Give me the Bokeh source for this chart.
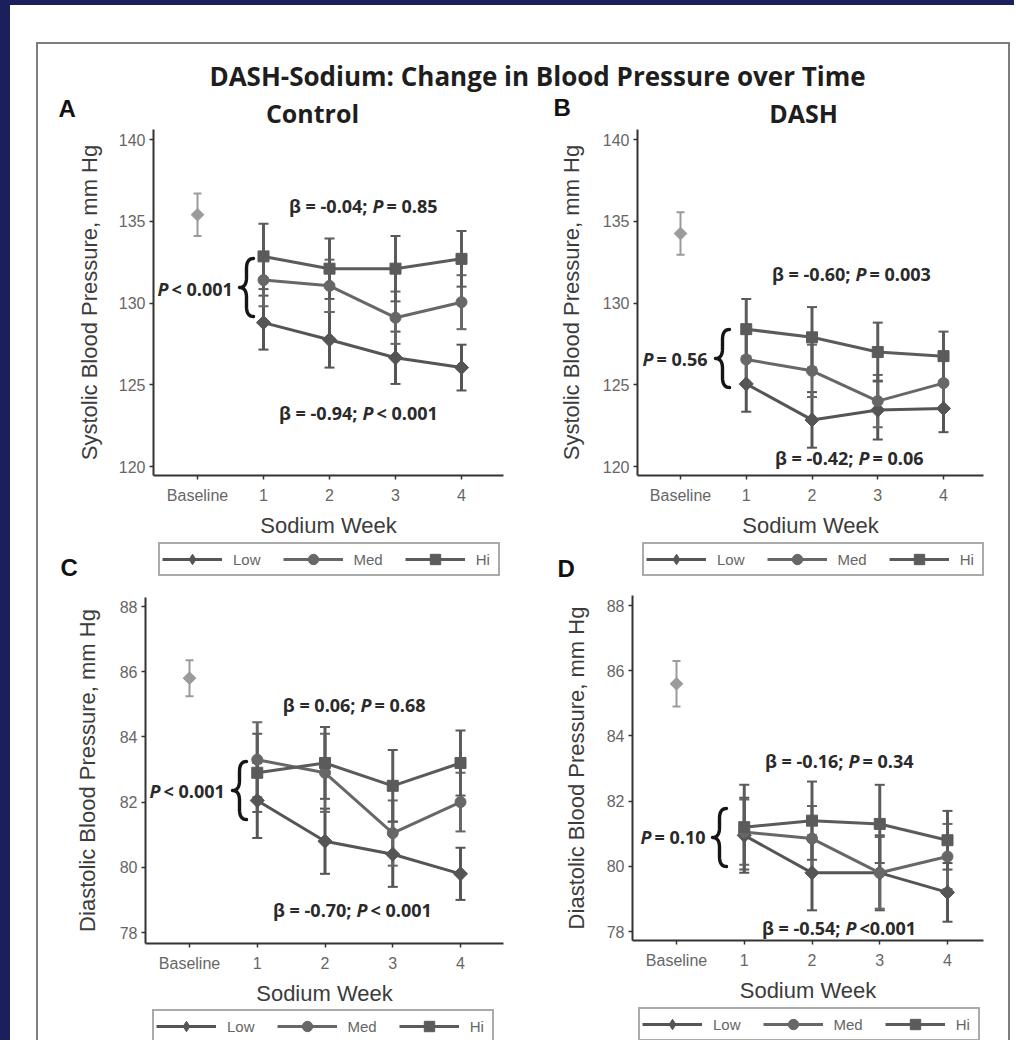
import math
from bokeh.plotting import figure
from bokeh.models import (ColumnDataSource, Whisker, TeeHead, Label, Legend, LegendItem,
                          FixedTicker, PolyAnnotation, Range1d)
from bokeh.layouts import column, row
from bokeh.embed import file_html
from bokeh.resources import INLINE

# ---------------- data ----------------
WEEKS = [1, 2, 3, 4]
X_TICKS = [0, 1, 2, 3, 4]
X_TICK_LABELS = ["Baseline", "1", "2", "3", "4"]
SERIES = ["Low", "Med", "Hi"]
SBP_TICKS = [120, 125, 130, 135, 140]
DBP_TICKS = [78, 80, 82, 84, 86, 88]

# A: systolic, control diet
A_BASE = 135.4
A_BASE_ERR = 1.3
A_LOW = [128.8, 127.75, 126.65, 126.05]
A_LOW_ERR = [1.65, 1.7, 1.6, 1.4]
A_MED = [131.4, 131.05, 129.1, 130.05]
A_MED_ERR = [1.6, 1.6, 1.6, 1.65]
A_HI = [132.85, 132.1, 132.1, 132.7]
A_HI_ERR = [2.0, 1.85, 2.0, 1.7]

# B: systolic, DASH diet
B_BASE = 134.25
B_BASE_ERR = 1.3
B_LOW = [125.05, 122.85, 123.45, 123.55]
B_LOW_ERR = [1.7, 1.7, 1.8, 1.45]
B_MED = [126.55, 125.85, 124.0, 125.1]
B_MED_ERR = [1.6, 1.6, 1.6, 1.5]
B_HI = [128.4, 127.9, 127.0, 126.75]
B_HI_ERR = [1.85, 1.85, 1.8, 1.5]

# C: diastolic, control diet
C_BASE = 85.8
C_BASE_ERR = 0.55
C_LOW = [82.05, 80.8, 80.4, 79.8]
C_LOW_ERR = [1.15, 1.0, 1.0, 0.8]
C_MED = [83.3, 82.9, 81.05, 82.0]
C_MED_ERR = [1.15, 1.2, 1.0, 0.9]
C_HI = [82.9, 83.2, 82.5, 83.2]
C_HI_ERR = [1.2, 1.1, 1.1, 1.0]

# D: diastolic, DASH diet
D_BASE = 85.6
D_BASE_ERR = 0.7
D_LOW = [80.95, 79.8, 79.8, 79.2]
D_LOW_ERR = [1.15, 1.15, 1.15, 0.9]
D_MED = [81.05, 80.85, 79.8, 80.3]
D_MED_ERR = [1.0, 1.0, 1.1, 1.0]
D_HI = [81.2, 81.4, 81.3, 80.8]
D_HI_ERR = [1.3, 1.2, 1.2, 0.9]

TITLE = "DASH-Sodium: Change in Blood Pressure over Time"
SBP_LABEL = "Systolic Blood Pressure, mm Hg"
DBP_LABEL = "Diastolic Blood Pressure, mm Hg"
X_LABEL = "Sodium Week"

A_NOTES = [("β = -0.04;", "P", "= 0.85"), ("β = -0.94;", "P", "< 0.001"), ("", "P", "< 0.001")]
B_NOTES = [("β = -0.60;", "P", "= 0.003"), ("β = -0.42;", "P", "= 0.06"), ("", "P", "= 0.56")]
C_NOTES = [("β = 0.06;", "P", "= 0.68"), ("β = -0.70;", "P", "< 0.001"), ("", "P", "< 0.001")]
D_NOTES = [("β = -0.16;", "P", "= 0.34"), ("β = -0.54;", "P", "<0.001"), ("", "P", "= 0.10")]

# ---------------- style / layout ----------------
NAVY = "#1b1f5c"
BORDER = "#7d7d7d"
BASE_COLOR = "#9b9b9b"
SER_COLORS = ["#555555", "#676767", "#5b5b5b"]
SER_MARKERS = ["diamond", "circle", "square"]
SER_SIZES = [14, 11, 11]
AXIS_COLOR = "#333333"
TICK_TEXT = "#666666"
LABEL_TEXT = "#3c3c3c"
NOTE_TEXT = "#2a2a2a"
SANS = "Liberation Sans"
BOLD = "Open Sans"
WIDE_DIAMOND = 10          # square turned 45 degrees, drawn over the diamond key glyph

# figure boxes on the page (x, y, w, h)
FIG = {
    "T": dict(x=38, y=44, w=970, h=51),
    "A": dict(x=38, y=95, w=487, h=489),
    "B": dict(x=525, y=95, w=483, h=489),
    "C": dict(x=38, y=584, w=487, h=456),
    "D": dict(x=525, y=584, w=483, h=456),
}
# axis geometry on the page: baseline / week-4 tick x, top / bottom tick y, axis box
AXPX = {
    "A": dict(x0=197, x4=461, yt=139, yb=466, L=153, R=503, T=129, B=475, ylab_sd=14),
    "B": dict(x0=680, x4=943, yt=139, yb=466, L=637, R=983, T=129, B=475, ylab_sd=16),
    "C": dict(x0=189, x4=460, yt=606, yb=932, L=145, R=503, T=597, B=943, ylab_sd=17),
    "D": dict(x0=676, x4=947, yt=605, yb=931, L=632, R=983, T=595, B=940, ylab_sd=15),
}
# text positions: (P x, centre y) page px
NOTE_POS = {
    "A": [(372, 205), (362, 412), (157, 288)],
    "B": [(855, 273), (858, 457), (642, 358)],
    "C": [(360, 704), (356, 909), (149, 790)],
    "D": [(848, 760), (845, 927), (640, 836)],
}
BRACE_POS = {"A": (246, 287), "B": (722, 358), "C": (239, 790), "D": (719, 837)}
LETTERS = {"A": [("A", 58, 108), ("C", 60, 567)], "B": [("B", 553, 107), ("D", 557, 568)],
           "C": [], "D": []}
HEADINGS = {"A": ("Control", 312, 112), "B": ("DASH", 803, 112)}
LEGEND_POS = {"A": (158, 576), "B": (642, 576), "C": (152, 1043), "D": (638, 1041)}  # left, bottom
P_GAP_BEFORE = 5
P_GAP_AFTER = 14


def add_text(p, f, px, py, text, font, size, style, color, align="left"):
    p.add_layout(Label(x=px - f["x"], y=f["y"] + f["h"] - py, x_units="screen", y_units="screen",
                       text=text, text_font=font, text_font_size=size, text_font_style=style,
                       text_color=color, text_align=align, text_baseline="middle"))


def add_brace(p, f, cx, cy, h=58, w=14, r=10):
    top, bot = cy - h / 2, cy + h / 2
    xr, xs, xt = cx + w / 2, cx, cx - w / 2

    def quad(p0, c, p1, n=10):
        return [((1 - t) ** 2 * p0[0] + 2 * (1 - t) * t * c[0] + t ** 2 * p1[0],
                 (1 - t) ** 2 * p0[1] + 2 * (1 - t) * t * c[1] + t ** 2 * p1[1])
                for t in [i / n for i in range(n + 1)]]
    pts = []
    pts += quad((xr, top), (xs, top), (xs, top + r))
    pts += quad((xs, cy - r), (xs, cy), (xt, cy))
    pts += quad((xt, cy), (xs, cy), (xs, cy + r))
    pts += quad((xs, bot - r), (xs, bot), (xr, bot))
    path = pts + pts[::-1]
    p.add_layout(PolyAnnotation(xs=[x - f["x"] for x, _ in path],
                                ys=[f["y"] + f["h"] - y for _, y in path],
                                xs_units="screen", ys_units="screen", fill_alpha=0,
                                line_color="#151515", line_alpha=1.0, line_width=3.4,
                                line_join="round"))


def make_panel(key, ylabel, yticks, base, base_err, means, errs, notes):
    f, a = FIG[key], AXPX[key]
    vt, vb = yticks[-1], yticks[0]
    ppx = (a["x4"] - a["x0"]) / 4.0
    ppy = (a["yb"] - a["yt"]) / float(vt - vb)

    def xd(px):
        return (px - a["x0"]) / ppx

    def yd(py):
        return vt - (py - a["yt"]) / ppy

    p = figure(width=f["w"], height=f["h"],
               x_range=Range1d(xd(f["x"]), xd(f["x"] + f["w"])),
               y_range=Range1d(yd(f["y"] + f["h"]), yd(f["y"])),
               min_border=0, toolbar_location=None, tools="", output_backend="svg")
    p.outline_line_color = None
    p.grid.visible = False
    p.background_fill_color = "white"
    p.border_fill_color = "white"

    xa, ya = p.xaxis[0], p.yaxis[0]
    xa.fixed_location = yd(a["B"])
    xa.bounds = (xd(a["L"]), xd(a["R"]))
    ya.fixed_location = xd(a["L"])
    ya.bounds = (yd(a["B"]), yd(a["T"]))
    xa.ticker = FixedTicker(ticks=X_TICKS)
    xa.major_label_overrides = {t: lab for t, lab in zip(X_TICKS, X_TICK_LABELS)}
    ya.ticker = FixedTicker(ticks=yticks)
    for ax in (xa, ya):
        ax.axis_line_color = AXIS_COLOR
        ax.axis_line_width = 2
        ax.major_tick_line_color = AXIS_COLOR
        ax.major_tick_line_width = 1.5
        ax.major_tick_out = 4
        ax.major_tick_in = 0
        ax.minor_tick_line_color = None
        ax.major_label_text_font = SANS
        ax.major_label_text_font_size = "16px"
        ax.major_label_text_color = TICK_TEXT
        ax.axis_label_text_font = SANS
        ax.axis_label_text_font_size = "22px"
        ax.axis_label_text_font_style = "normal"
        ax.axis_label_text_color = LABEL_TEXT
    xa.axis_label = X_LABEL
    xa.major_label_standoff = 7
    xa.axis_label_standoff = 6
    ya.axis_label = ylabel
    ya.major_label_standoff = 4
    ya.axis_label_standoff = a["ylab_sd"]

    src_b = ColumnDataSource(dict(x=[0], y=[base], upper=[base + base_err], lower=[base - base_err]))
    p.add_layout(Whisker(source=src_b, base="x", upper="upper", lower="lower",
                         line_color=BASE_COLOR, line_width=2,
                         upper_head=TeeHead(size=8, line_color=BASE_COLOR, line_width=2),
                         lower_head=TeeHead(size=8, line_color=BASE_COLOR, line_width=2)))
    p.scatter("x", "y", source=src_b, marker="square", angle=math.pi / 4, size=9, color=BASE_COLOR)

    items = []
    for name, vals, err, col, mk, sz in zip(SERIES, means, errs, SER_COLORS, SER_MARKERS, SER_SIZES):
        src = ColumnDataSource(dict(x=WEEKS, y=vals, upper=[v + e for v, e in zip(vals, err)],
                                    lower=[v - e for v, e in zip(vals, err)]))
        p.add_layout(Whisker(source=src, base="x", upper="upper", lower="lower",
                             line_color=col, line_width=3,
                             upper_head=TeeHead(size=10, line_color=col, line_width=2),
                             lower_head=TeeHead(size=10, line_color=col, line_width=2)))
        ln = p.line("x", "y", source=src, line_color=col, line_width=3)
        sc = p.scatter("x", "y", source=src, marker=mk, size=sz, color=col)
        if mk == "diamond":
            # widen the diamond: a square turned 45 degrees on top (legends never rotate markers)
            p.scatter("x", "y", source=src, marker="square", angle=math.pi / 4,
                      size=WIDE_DIAMOND, color=col)
        items.append(LegendItem(label=name, renderers=[ln, sc]))

    lx, lb = LEGEND_POS[key]
    leg = Legend(items=items, orientation="horizontal",
                 location=(lx - f["x"], f["y"] + f["h"] - lb), margin=0,
                 padding=2, spacing=22, glyph_width=60, glyph_height=26, label_standoff=11,
                 label_text_font=SANS, label_text_font_size="15px", label_text_color=TICK_TEXT,
                 border_line_color="#555555", border_line_width=2, background_fill_color="white",
                 background_fill_alpha=1.0)
    p.add_layout(leg)

    for (pre, pp, post), (px, py) in zip(notes, NOTE_POS[key]):
        if pre:
            add_text(p, f, px - P_GAP_BEFORE, py, pre, BOLD, "18px", "bold", NOTE_TEXT, align="right")
        add_text(p, f, px, py, pp, BOLD, "18px", "bold italic", NOTE_TEXT)
        add_text(p, f, px + P_GAP_AFTER, py, post, BOLD, "18px", "bold", NOTE_TEXT)
    add_brace(p, f, *BRACE_POS[key])
    for txt, lx2, ly2 in LETTERS[key]:
        add_text(p, f, lx2, ly2, txt, SANS, "24px", "bold", "#111111")
    if key in HEADINGS:
        txt, hx, hy = HEADINGS[key]
        add_text(p, f, hx, hy, txt, BOLD, "25px", "bold", "#1e1e1e", align="center")
    return p


pA = make_panel("A", SBP_LABEL, SBP_TICKS, A_BASE, A_BASE_ERR, [A_LOW, A_MED, A_HI],
                [A_LOW_ERR, A_MED_ERR, A_HI_ERR], A_NOTES)
pB = make_panel("B", SBP_LABEL, SBP_TICKS, B_BASE, B_BASE_ERR, [B_LOW, B_MED, B_HI],
                [B_LOW_ERR, B_MED_ERR, B_HI_ERR], B_NOTES)
pC = make_panel("C", DBP_LABEL, DBP_TICKS, C_BASE, C_BASE_ERR, [C_LOW, C_MED, C_HI],
                [C_LOW_ERR, C_MED_ERR, C_HI_ERR], C_NOTES)
pD = make_panel("D", DBP_LABEL, DBP_TICKS, D_BASE, D_BASE_ERR, [D_LOW, D_MED, D_HI],
                [D_LOW_ERR, D_MED_ERR, D_HI_ERR], D_NOTES)

ft = FIG["T"]
pT = figure(width=ft["w"], height=ft["h"], x_range=Range1d(0, 1), y_range=Range1d(0, 1),
            x_axis_location=None, y_axis_location=None, min_border=0,
            toolbar_location=None, tools="", output_backend="svg")
pT.outline_line_color = None
pT.grid.visible = False
add_text(pT, ft, 537, 75, TITLE, BOLD, "26px", "bold", "#1e1e1e", align="center")

bordered = column(pT, row(pA, pB), row(pC, pD),
                  styles={"border-left": f"2px solid {BORDER}", "border-top": f"2px solid {BORDER}",
                          "border-right": f"2px solid {BORDER}"})
white = column(bordered, styles={"background-color": "white", "padding": "37px 4px 0px 26px"})
page = column(white, styles={"background-color": NAVY, "padding-left": "10px", "padding-top": "5px"})

open("out.html", "w").write(file_html(page, INLINE))
